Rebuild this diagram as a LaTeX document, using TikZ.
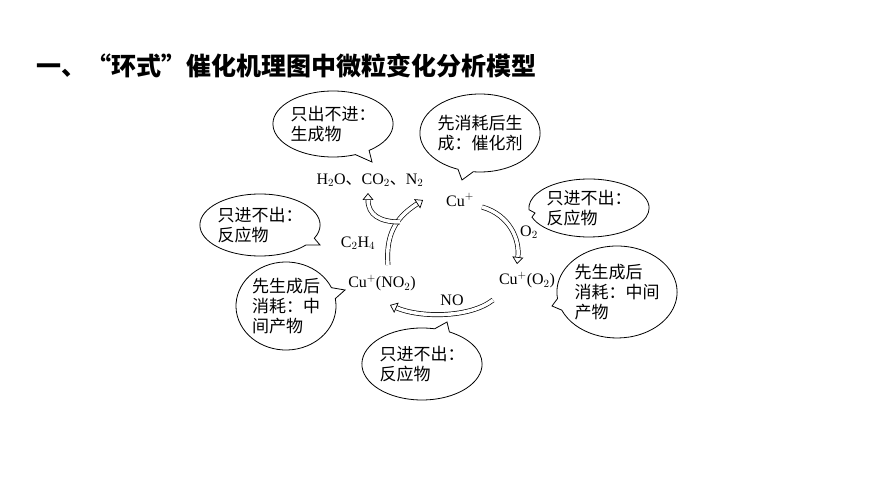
\documentclass[tikz,border=0pt]{standalone}
\usepackage{fontspec}
\setmainfont{Liberation Serif}
\newfontfamily\cjk{Noto Sans CJK SC}
\usetikzlibrary{shapes.callouts,arrows.meta,calc}
\begin{document}
\begin{tikzpicture}[x=1pt,y=-1pt,
 bub/.style={ellipse callout,draw,line width=0.8pt,font=\cjk\fontsize{17}{20}\selectfont,align=left,inner sep=0pt},
 chem/.style={font=\fontsize{16}{18}\selectfont,inner sep=1pt},
 fat/.style={double,double distance=3.5pt,line width=0.7pt,-{Triangle[open,length=7pt,width=11pt]}}]
\useasboundingbox[fill=white] (0,0) rectangle (870,489);
\node[anchor=west,font=\cjk\bfseries\fontsize{25}{28}\selectfont] (title) at (33,66) {一、“环式”催化机理图中微粒变化分析模型};
\node[chem] (prod) at (370,180) {H$_2$O{\cjk 、}CO$_2${\cjk 、}N$_2$};
\node[chem] (cu) at (460,200) {Cu$^+$};
\node[chem] (o2) at (529,232) {O$_2$};
\node[chem] (c2h4) at (358,243) {C$_2$H$_4$};
\node[chem] (cuno2) at (382,283) {Cu$^+$(NO$_2$)};
\node[chem] (cuo2) at (527,280) {Cu$^+$(O$_2$)};
\node[chem] (no) at (452,300) {NO};
\node[bub,minimum width=110pt,minimum height=66pt,callout absolute pointer={(372,162)}] (b1) at (333,124) {只出不进：\\生成物};
\node[bub,minimum width=102pt,minimum height=78pt,callout absolute pointer={(462,180)}] (b2) at (480,133) {先消耗后生\\成：催化剂};
\node[bub,minimum width=102pt,minimum height=58pt,callout absolute pointer={(535,213)}] (b3) at (589,208) {只进不出：\\反应物};
\node[bub,minimum width=112pt,minimum height=62pt,callout absolute pointer={(320,245)}] (b4) at (260,225) {只进不出：\\反应物};
\node[bub,minimum width=100pt,minimum height=88pt,callout absolute pointer={(345,290)}] (b5) at (286,306) {先生成后\\消耗：中\\间产物};
\node[bub,minimum width=112pt,minimum height=92pt,callout absolute pointer={(552,306)}] (b6) at (617,292) {先生成后\\消耗：中间\\产物};
\node[bub,minimum width=110pt,minimum height=72pt,callout absolute pointer={(447,322)}] (b7) at (422,364) {只进不出：\\反应物};
\coordinate (a1s) at (482,207);
\coordinate (a1e) at (517,264);
\draw[fat] (a1s) .. controls (510,215) and (520,240) .. (a1e);
\coordinate (a2s) at (493,300);
\coordinate (a2e) at (390,305);
\draw[fat] (a2s) .. controls (470,318) and (420,318) .. (a2e);
\coordinate (a3s) at (388,265);
\coordinate (a3e) at (423,200);
\draw[fat] (a3s) .. controls (385,230) and (400,215) .. (a3e);
\coordinate (a4s) at (400,222);
\coordinate (a4e) at (368,193);
\draw[fat] (a4s) .. controls (380,222) and (368,215) .. (a4e);
\end{tikzpicture}
\end{document}
